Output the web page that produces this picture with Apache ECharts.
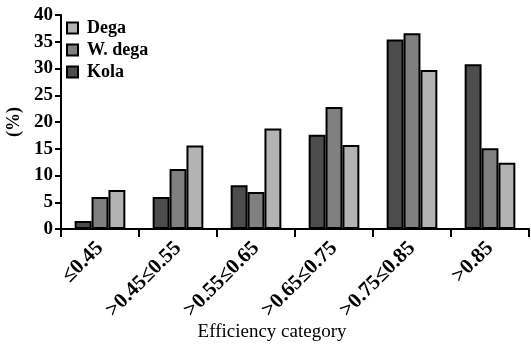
<!DOCTYPE html>
<html><head><meta charset="utf-8">
<script src="https://cdn.jsdelivr.net/npm/echarts@6/dist/echarts.min.js"></script>
<style>html,body{margin:0;padding:0;background:#fff}#c{width:531px;height:348px}</style>
</head><body><div id="c"></div>
<script>
var categories = ['\u22640.45', '>0.45\u22640.55', '>0.55\u22640.65', '>0.65\u22640.75', '>0.75\u22640.85', '>0.85'];
var kola = [1.5, 6.0, 8.2, 17.6, 35.4, 30.8];
var wdega = [6.0, 11.2, 6.9, 22.8, 36.6, 15.1];
var dega = [7.3, 15.6, 18.8, 15.7, 29.7, 12.4];
var yTicks = [0, 5, 10, 15, 20, 25, 30, 35, 40];

var font = '"Liberation Serif", "Times New Roman", serif';
var chart = echarts.init(document.getElementById('c'));
function s(name, data, color) {
  return {name: name, type: 'bar', data: data, barGap: '0%', barCategoryGap: '35%',
    itemStyle: {color: color, borderColor: '#000', borderWidth: 2}};
}
chart.setOption({
  animation: false,
  grid: {left: 61, right: 2, top: 15, bottom: 119, containLabel: false, outerBoundsMode: 'none'},
  legend: {
    data: ['Dega', 'W. dega', 'Kola'], orient: 'vertical', left: 66, top: 19,
    itemWidth: 11, itemHeight: 11, itemGap: 4, padding: 0,
    textStyle: {fontFamily: font, fontWeight: 'bold', fontSize: 18, color: '#000', lineHeight: 18, padding: [0, 0, 0, 4]},
    icon: 'rect'
  },
  xAxis: {
    type: 'category', data: categories,
    name: 'Efficiency category', nameLocation: 'middle', nameGap: 94, nameMoveOverlap: false,
    nameTextStyle: {fontFamily: font, fontSize: 19, color: '#000', padding: [0, 46, 0, 0]},
    axisLine: {lineStyle: {color: '#000', width: 2}},
    axisTick: {show: true, length: 8, lineStyle: {color: '#000', width: 2}},
    axisLabel: {rotate: 45, fontFamily: font, fontWeight: 'bold', fontSize: 21, color: '#000', margin: 16, interval: 0}
  },
  yAxis: {
    type: 'value', min: yTicks[0], max: yTicks[yTicks.length - 1], interval: 5,
    name: '(%)', nameLocation: 'middle', nameGap: 28, nameRotate: 90,
    nameTextStyle: {fontFamily: font, fontSize: 18, fontWeight: 'bold', color: '#000'},
    axisLine: {show: true, lineStyle: {color: '#000', width: 2}},
    axisTick: {show: true, length: 6, lineStyle: {color: '#000', width: 2}},
    axisLabel: {fontFamily: font, fontWeight: 'bold', fontSize: 19, color: '#000', margin: 8},
    splitLine: {show: false}
  },
  series: [s('Kola', kola, '#4d4d4d'), s('W. dega', wdega, '#808080'), s('Dega', dega, '#b3b3b3')]
});
</script></body></html>
